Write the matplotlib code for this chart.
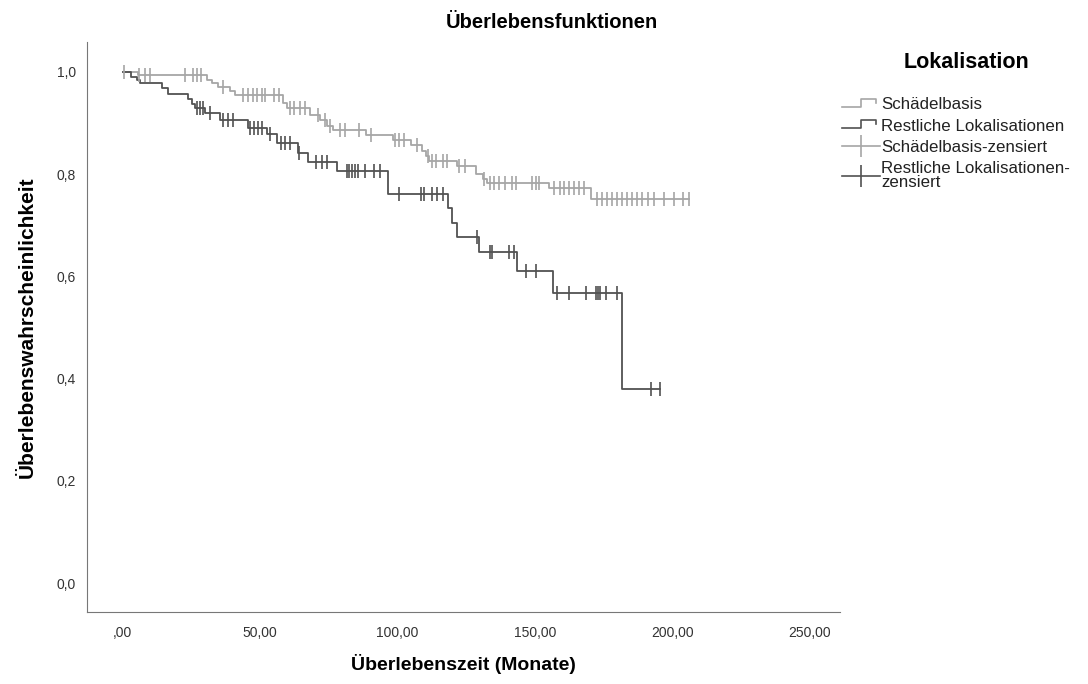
import numpy as np
import matplotlib
matplotlib.use('Agg')
import matplotlib.pyplot as plt
from matplotlib.lines import Line2D
from matplotlib.legend_handler import HandlerBase
from matplotlib.ticker import FuncFormatter, MultipleLocator

plt.rcParams['font.family'] = ['Liberation Sans', 'DejaVu Sans']

# Schädelbasis: Kaplan-Meier Stufen (Monate, Überlebenswahrscheinlichkeit)
sb_time = [0, 5.5, 30.5, 32.4, 34.5, 38.9, 40.7, 58.2, 59.6, 68, 71.6, 74.5, 76.4,
           88.7, 98.2, 105, 109, 110.5, 111.6, 121.5, 128.7, 131, 132.4, 155.3, 170.5]
sb_surv = [1.0, 0.993, 0.985, 0.978, 0.970, 0.963, 0.955, 0.94, 0.93, 0.915, 0.905,
           0.895, 0.887, 0.877, 0.867, 0.857, 0.845, 0.835, 0.825, 0.815, 0.80, 0.79,
           0.783, 0.773, 0.751]
sb_cens = [0.5, 6, 8, 10, 22.5, 25.5, 27, 28.4, 36.4, 43.6, 45.5, 47.3, 49, 50.5, 51.6,
           55, 57, 60.7, 62.5, 64.4, 66.2, 71, 73.5, 75.3, 79, 80.7, 86, 90.5, 99, 100.7,
           102.5, 107, 111, 112.4, 114, 116.4, 118, 122.5, 124.4, 131.6, 133.5, 135, 137,
           139, 141.5, 143, 149, 150.5, 151.6, 157, 159, 160.7, 162.5, 164.4, 166, 168,
           172.7, 174.5, 176.4, 178.2, 180, 181.8, 183.6, 185.5, 187.3, 189, 191, 193.5,
           197, 200.7, 204, 206]

# Restliche Lokalisationen
rl_time = [0, 2.9, 5.1, 6.2, 14.2, 16.4, 23.6, 25.1, 26.2, 29.8, 35.3, 45.5, 52.4, 56,
           63.6, 67.3, 77.8, 96.4, 118.2, 120, 121.8, 129.8, 143.6, 156.4, 181.8]
rl_surv = [1.0, 0.99, 0.985, 0.978, 0.969, 0.957, 0.947, 0.9375, 0.93, 0.92, 0.905,
           0.89, 0.879, 0.861, 0.842, 0.824, 0.807, 0.762, 0.734, 0.705, 0.676, 0.647,
           0.611, 0.568, 0.379]
rl_cens = [26.9, 28, 29.1, 31.6, 36.4, 38.2, 40, 46.2, 47.6, 49.1, 50.5, 53.5, 57.5,
           58.9, 60.7, 64, 70.5, 72.4, 74.2, 81.5, 82.5, 83.6, 84.4, 85.5, 88, 91.6,
           93.5, 100.7, 108.7, 109.8, 112.7, 114.5, 116.4, 129, 133.5, 134.5, 140.7,
           142.5, 146.9, 150.5, 158.2, 162.5, 168.7, 172.4, 173.1, 173.8, 176, 180,
           192.4, 195.5]

labels = ['Schädelbasis', 'Restliche Lokalisationen', 'Schädelbasis-zensiert',
          'Restliche Lokalisationen-\nzensiert']
light = '#a6a6a6'
dark = '#525252'


def km_at(times, surv, t):
    idx = np.searchsorted(times, t, side='right') - 1
    return np.asarray(surv)[idx]


class StepHandler(HandlerBase):
    def create_artists(self, legend, orig_handle, xd, yd, w, h, fontsize, trans):
        xs = np.array([0, 0.5, 0.5, 0.9, 0.9]) * w - xd
        ys = np.array([0.2, 0.2, 0.85, 0.85, 0.55]) * h - yd
        ln = Line2D(xs, ys, color=orig_handle.get_color(), lw=1.2)
        ln.set_transform(trans)
        return [ln]


fig = plt.figure(figsize=(10.88, 6.84), dpi=100)
ax = fig.add_axes([0.080, 0.105, 0.692, 0.834])

handles = []
for t, s, c, col in [(sb_time, sb_surv, sb_cens, light), (rl_time, rl_surv, rl_cens, dark)]:
    tt = list(t) + [max(c)]
    ss = list(s) + [s[-1]]
    ln, = ax.step(tt, ss, where='post', color=col, lw=1.3)
    handles.append(ln)
for t, s, c, col in [(sb_time, sb_surv, sb_cens, light), (rl_time, rl_surv, rl_cens, dark)]:
    ax.plot(c, km_at(t, s, c), ls='none', marker='|', markersize=10, mew=1.2, color=col)
    handles.append(Line2D([], [], color=col, lw=1.2, marker='|', markersize=16, mew=1.2))

ax.set_xlim(-13, 261)
ax.set_ylim(-0.057, 1.059)
ax.xaxis.set_major_locator(MultipleLocator(50))
ax.yaxis.set_major_locator(MultipleLocator(0.2))
ax.xaxis.set_major_formatter(FuncFormatter(lambda v, p: ',00' if v == 0 else f'{v:.2f}'.replace('.', ',')))
ax.yaxis.set_major_formatter(FuncFormatter(lambda v, p: f'{v:.1f}'.replace('.', ',')))
ax.tick_params(length=0, labelsize=10, colors='#333333')
ax.tick_params(axis='x', pad=10)
ax.tick_params(axis='y', pad=8)
for sp in ['top', 'right']:
    ax.spines[sp].set_visible(False)
for sp in ['left', 'bottom']:
    ax.spines[sp].set_color('#777777')

ax.set_xlabel('Überlebenszeit (Monate)', fontsize=14, fontweight='bold', labelpad=10)
ax.set_ylabel('Überlebenswahrscheinlichkeit', fontsize=15, fontweight='bold', labelpad=14)
fig.text(0.507, 0.967, 'Überlebensfunktionen', ha='center', va='center', fontsize=14.5, fontweight='bold')
fig.text(0.888, 0.909, 'Lokalisation', ha='center', va='center', fontsize=15.5, fontweight='bold')

leg = fig.legend(handles, labels, loc='upper left', bbox_to_anchor=(0.768, 0.868),
                 frameon=False, fontsize=12.2, handlelength=2.2, handletextpad=0.1,
                 labelspacing=0.38, borderaxespad=0,
                 handler_map={handles[0]: StepHandler(), handles[1]: StepHandler()})
for txt in leg.get_texts():
    txt.set_color('#222222')
    txt.set_linespacing(0.9)

fig.savefig('out.png', dpi=100)
